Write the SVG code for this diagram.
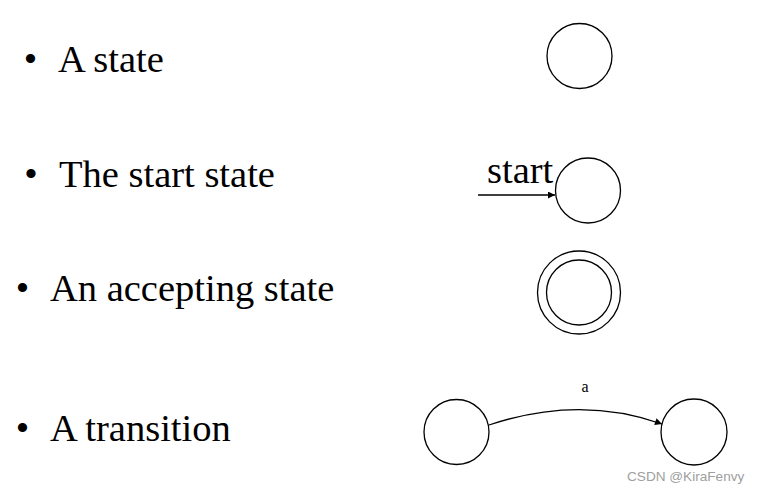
<svg xmlns="http://www.w3.org/2000/svg" width="760" height="494" viewBox="0 0 760 494">
<style>
.lbl{font-family:"Liberation Serif","Times New Roman",serif;font-size:38.5px;fill:#000}
.st{fill:#fff;stroke:#000;stroke-width:1.3}
.edge{fill:none;stroke:#000;stroke-width:1.3}
.wm{font-family:"Liberation Sans",Arial,sans-serif;font-size:13.6px;fill:#a0a0a0}
</style>
<defs>
<marker id="ah" viewBox="0 0 10 10" refX="10" refY="5" markerWidth="8" markerHeight="7" markerUnits="userSpaceOnUse" orient="auto">
<path d="M0,0 L10,5 L0,10 z" fill="#000"/>
</marker>
</defs>
<rect width="760" height="494" fill="#fff"/>
<g id="labels">
<text class="lbl" x="30.5" y="72" text-anchor="middle">•</text>
<text class="lbl" x="58" y="72">A state</text>
<text class="lbl" x="31" y="187" text-anchor="middle">•</text>
<text class="lbl" x="59" y="187">The start state</text>
<text class="lbl" x="22.5" y="301" text-anchor="middle">•</text>
<text class="lbl" x="50" y="301">An accepting state</text>
<text class="lbl" x="22.5" y="441" text-anchor="middle">•</text>
<text class="lbl" x="50" y="441">A transition</text>
</g>
<g id="state"><circle class="st" cx="579.5" cy="56" r="32.5"/></g>
<g id="start-state">
<circle class="st" cx="588" cy="190.5" r="32.5"/>
<text class="lbl" x="487" y="183">start</text>
</g>
<g id="accepting-state">
<circle class="st" cx="579" cy="292.5" r="41.5"/>
<circle class="st" cx="579" cy="292.5" r="32.5"/>
</g>
<g id="trans-from"><circle class="st" cx="456.5" cy="432" r="32.5"/></g>
<g id="trans-to"><circle class="st" cx="694" cy="432" r="33"/></g>
<g id="connectors">
<line class="edge" x1="478" y1="195" x2="555" y2="195" marker-end="url(#ah)"/>
<path class="edge" d="M489,425 C540,408 600,402 662,424" marker-end="url(#ah)"/>
<text x="585" y="392" text-anchor="middle" style="font-family:'Liberation Serif','Times New Roman',serif;font-size:16px">a</text>
</g>
<text class="wm" x="627" y="481">CSDN @KiraFenvy</text>
</svg>
